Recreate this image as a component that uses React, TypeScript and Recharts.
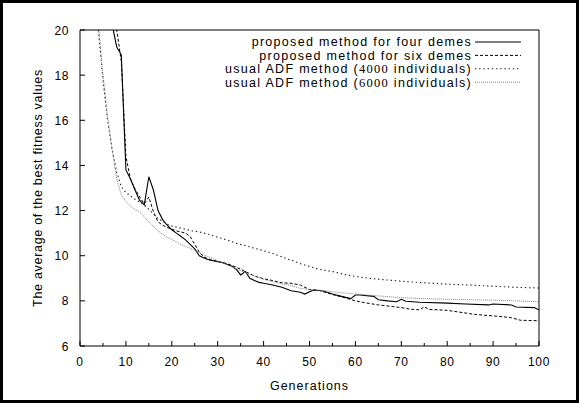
import React from "react";
import { Legend, Line, LineChart, XAxis, YAxis } from "recharts";

// Gnuplot-style convergence plot: best fitness vs generations, four methods.

const FONT = '"Liberation Sans", Arial, Helvetica, sans-serif';
const SERIF = '"Liberation Serif", "Times New Roman", serif';

const xTicks = [0, 5, 10, 15, 20, 25, 30, 35, 40, 45, 50, 55, 60, 65, 70, 75, 80, 85, 90, 95, 100];
const yTicks = [6, 8, 10, 12, 14, 16, 18, 20];

// proposed method for four demes
const fourGen = [5, 6, 7, 8, 9, 10, 11, 12, 13, 14, 15, 16, 17, 18, 19, 20, 21, 22, 23, 24, 25, 26, 27, 28, 29, 30, 31, 32, 33, 34, 35, 36, 37, 38, 39, 40, 42, 44, 46, 48, 49, 50, 51, 53, 55, 57, 59, 60, 61, 64, 65, 67, 69, 70, 71, 74, 80, 84, 89, 90, 94, 95, 99, 100];
const fourVal = [24, 22, 20.25, 19.25, 18.9, 13.8, 13.4, 12.9, 12.45, 12.25, 13.5, 12.9, 12.0, 11.6, 11.35, 11.15, 11.0, 10.85, 10.7, 10.5, 10.3, 10.0, 9.9, 9.82, 9.78, 9.73, 9.7, 9.62, 9.55, 9.4, 9.15, 9.3, 9.0, 8.9, 8.82, 8.78, 8.7, 8.6, 8.45, 8.38, 8.3, 8.4, 8.48, 8.44, 8.3, 8.2, 8.1, 8.26, 8.26, 8.2, 8.05, 8.0, 7.96, 8.07, 7.98, 7.94, 7.9, 7.86, 7.82, 7.86, 7.82, 7.73, 7.7, 7.6];

// proposed method for six demes
const sixGen = [5, 6, 7, 8, 9, 10, 11, 12, 13, 14, 15, 16, 17, 18, 19, 20, 21, 22, 23, 24, 25, 26, 27, 28, 29, 30, 32, 34, 36, 38, 40, 42, 44, 46, 48, 50, 52, 55, 58, 60, 62, 65, 68, 70, 72, 74, 75, 76, 80, 83, 86, 89, 92, 94, 96, 100];
const sixVal = [26, 24, 21.5, 20.0, 18.6, 14.4, 13.4, 12.95, 12.6, 12.3, 12.6, 11.95, 11.5, 11.35, 11.25, 11.18, 11.1, 11.05, 11.0, 10.85, 10.5, 10.15, 9.95, 9.85, 9.8, 9.75, 9.65, 9.5, 9.3, 9.1, 8.98, 8.9, 8.8, 8.78, 8.7, 8.5, 8.47, 8.28, 8.12, 8.0, 7.92, 7.82, 7.75, 7.7, 7.63, 7.6, 7.74, 7.62, 7.58, 7.49, 7.4, 7.35, 7.3, 7.25, 7.14, 7.12];

// usual ADF method (4000 individuals)
const adf4Gen = [2, 3, 4, 5, 6, 7, 8, 9, 10, 11, 12, 13, 14, 15, 16, 17, 18, 19, 20, 22, 24, 26, 28, 30, 32, 34, 36, 38, 40, 42, 44, 46, 48, 50, 52, 55, 58, 60, 63, 66, 70, 75, 80, 85, 90, 95, 100];
const adf4Val = [25, 22, 20.0, 17.8, 16.0, 14.7, 13.7, 13.05, 12.8, 12.65, 12.5, 12.38, 12.25, 12.05, 11.85, 11.65, 11.52, 11.4, 11.32, 11.22, 11.12, 11.05, 10.95, 10.82, 10.7, 10.55, 10.45, 10.33, 10.22, 10.1, 9.95, 9.8, 9.65, 9.52, 9.4, 9.3, 9.15, 9.08, 9.0, 8.94, 8.87, 8.8, 8.74, 8.7, 8.65, 8.6, 8.57];

// usual ADF method (6000 individuals)
const adf6Gen = [2, 3, 4, 5, 6, 7, 8, 9, 10, 11, 12, 13, 14, 15, 16, 17, 18, 19, 20, 22, 24, 26, 28, 30, 32, 34, 36, 38, 40, 42, 44, 46, 48, 50, 53, 56, 60, 65, 70, 75, 80, 85, 90, 95, 100];
const adf6Val = [26, 22.5, 20.3, 18.0, 16.2, 14.7, 13.4, 12.7, 12.4, 12.2, 12.05, 11.95, 11.72, 11.5, 11.3, 11.1, 10.95, 10.82, 10.72, 10.5, 10.33, 10.13, 9.95, 9.78, 9.6, 9.42, 9.25, 9.1, 8.95, 8.85, 8.75, 8.68, 8.55, 8.5, 8.45, 8.38, 8.3, 8.22, 8.14, 8.1, 8.07, 8.05, 8.03, 8.0, 7.96];

const toPoints = (gens: number[], vals: number[]) =>
  gens.map((gen, i) => ({ gen, value: vals[i] }));

type Series = {
  label: React.ReactNode;
  data: { gen: number; value: number }[];
  stroke: string;
  width: number;
  dash?: string;
};

const series: Series[] = [
  { label: "proposed method for four demes", data: toPoints(fourGen, fourVal), stroke: "#000", width: 1.1 },
  { label: "proposed method for six demes", data: toPoints(sixGen, sixVal), stroke: "#000", width: 1, dash: "3 2" },
  {
    label: <>usual ADF method (<tspan fontFamily={SERIF}>4000</tspan> individuals)</>,
    data: toPoints(adf4Gen, adf4Val),
    stroke: "#222",
    width: 1.1,
    dash: "1.4 2.8",
  },
  {
    label: <>usual ADF method (<tspan fontFamily={SERIF}>6000</tspan> individuals)</>,
    data: toPoints(adf6Gen, adf6Val),
    stroke: "#808080",
    width: 1,
    dash: "1 1",
  },
];

const textStyle = { fontSize: 12.5, fontFamily: FONT, letterSpacing: 1, fill: "#000" };
const tickStyle = { fontSize: 12, fontFamily: FONT, letterSpacing: 0.6, fill: "#000" };

function BottomTick(props: any) {
  const { x, y, payload } = props;
  const major = payload.value % 10 === 0;
  return (
    <g>
      <line x1={x} x2={x} y1={y} y2={y - (major ? 5 : 3)} stroke="#000" />
      {major && (
        <text x={x} y={y + 20} textAnchor="middle" {...tickStyle}>
          {payload.value}
        </text>
      )}
    </g>
  );
}

function TopTick(props: any) {
  const { x, y, payload } = props;
  const major = payload.value % 10 === 0;
  return <line x1={x} x2={x} y1={y} y2={y + (major ? 5 : 3)} stroke="#000" />;
}

function LeftTick(props: any) {
  const { x, y, payload } = props;
  return (
    <g>
      <line x1={x} x2={x + 5} y1={y} y2={y} stroke="#000" />
      <text x={x - 11} y={y + 4.5} textAnchor="end" {...tickStyle}>
        {payload.value}
      </text>
    </g>
  );
}

function RightTick(props: any) {
  const { x, y } = props;
  return <line x1={x} x2={x - 5} y1={y} y2={y} stroke="#000" />;
}

function LegendBox() {
  return (
    <svg width={400} height={64}>
      {series.map((s, i) => {
        const cy = 10 + i * 13.4;
        return (
          <g key={i}>
            <text x={322} y={cy + 4.3} textAnchor="end" {...textStyle} letterSpacing={1.3}>
              {s.label}
            </text>
            <line x1={325} x2={371} y1={cy} y2={cy} stroke={s.stroke} strokeWidth={s.width} strokeDasharray={s.dash} />
          </g>
        );
      })}
    </svg>
  );
}

export default function App() {
  return (
    <div style={{ position: "absolute", left: 0, top: 0, width: 579, height: 403, background: "#fff" }}>
      <LineChart width={579} height={403} margin={{ top: 25, right: 35, bottom: 27, left: 40 }}>
        <XAxis
          dataKey="gen"
          type="number"
          domain={[0, 100]}
          ticks={xTicks}
          interval={0}
          tickSize={0}
          tickMargin={0}
          tickLine={false}
          tick={<BottomTick />}
          height={30}
          axisLine={{ stroke: "#000" }}
          label={{
            content: ({ viewBox }: any) => (
              <text x={viewBox.x + viewBox.width / 2} y={viewBox.y + 44} textAnchor="middle" {...textStyle}>
                Generations
              </text>
            ),
          }}
        />
        <XAxis
          xAxisId="top"
          orientation="top"
          type="number"
          domain={[0, 100]}
          ticks={xTicks}
          interval={0}
          tickSize={0}
          tickMargin={0}
          tickLine={false}
          tick={<TopTick />}
          height={5}
          axisLine={{ stroke: "#000" }}
        />
        <YAxis
          type="number"
          domain={[6, 20]}
          ticks={yTicks}
          interval={0}
          allowDataOverflow
          tickSize={0}
          tickMargin={0}
          tickLine={false}
          tick={<LeftTick />}
          width={40}
          axisLine={{ stroke: "#000" }}
          label={{
            content: ({ viewBox }: any) => {
              const cx = viewBox.x - 2;
              const cy = viewBox.y + viewBox.height / 2;
              return (
                <text
                  x={cx}
                  y={cy}
                  transform={`rotate(-90 ${cx} ${cy})`}
                  textAnchor="middle"
                  dominantBaseline="central"
                  {...textStyle}
                  letterSpacing={0.7}
                >
                  The average of the best fitness values
                </text>
              );
            },
          }}
        />
        <YAxis
          yAxisId="right"
          orientation="right"
          type="number"
          domain={[6, 20]}
          ticks={yTicks}
          interval={0}
          tickSize={0}
          tickMargin={0}
          tickLine={false}
          tick={<RightTick />}
          width={5}
          axisLine={{ stroke: "#000" }}
        />
        <Legend
          layout="horizontal"
          verticalAlign="middle"
          align="center"
          content={() => <LegendBox />}
          wrapperStyle={{ left: 150, top: 32, width: 400, height: 64 }}
        />
        {series.map((s, i) => (
          <Line
            key={i}
            data={s.data}
            dataKey="value"
            type="linear"
            stroke={s.stroke}
            strokeWidth={s.width}
            strokeDasharray={s.dash}
            dot={false}
            activeDot={false}
            isAnimationActive={false}
          />
        ))}
      </LineChart>
      <div
        style={{
          position: "absolute",
          left: 0,
          top: 0,
          width: 579,
          height: 403,
          boxSizing: "border-box",
          border: "3px solid #000",
          pointerEvents: "none",
        }}
      />
    </div>
  );
}
